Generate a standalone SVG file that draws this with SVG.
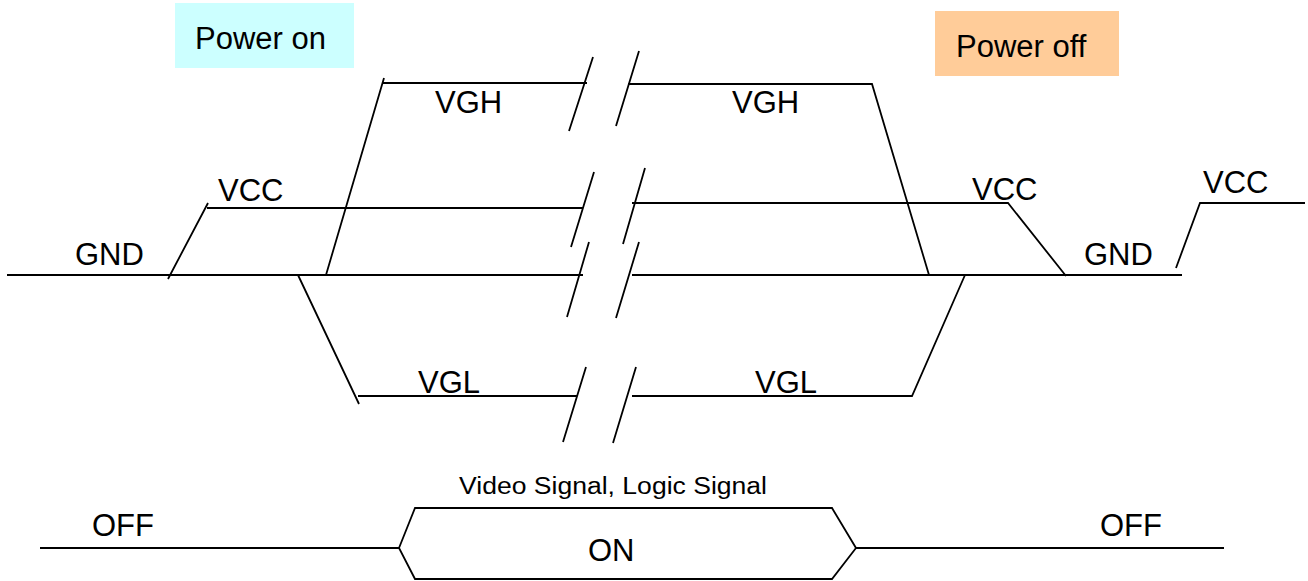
<svg xmlns="http://www.w3.org/2000/svg" width="1308" height="581" viewBox="0 0 1308 581">
<style>
.w{fill:none;stroke:#000;stroke-width:1.8;stroke-linecap:butt;stroke-linejoin:miter}
.t{font-family:"Liberation Sans",Arial,sans-serif;font-size:31px;fill:#000}
.s{font-family:"Liberation Sans",Arial,sans-serif;font-size:23px;fill:#000}
</style>
<rect width="1308" height="581" fill="#fff"/>
<g id="power-on">
<rect x="175" y="3" width="179" height="65" fill="#CCFFFF"/>
<text class="t" x="195" y="49">Power on</text>
</g>
<g id="power-off">
<rect x="935" y="11" width="184" height="65" fill="#FFCC99"/>
<text class="t" x="956" y="57">Power off</text>
</g>
<g id="vgh">
<path class="w" d="M326,275 L384,78 M383,83 L587,83 M628,84 L872,84 L929,275"/>
<text class="t" x="435" y="113">VGH</text>
<text class="t" x="732" y="113">VGH</text>
</g>
<g id="vcc">
<path class="w" d="M168,279 L208,203 M207,208 L583,208 M632,203 L1008,203 L1066,276 M1176,268 L1200,203 L1305,203"/>
<text class="t" x="218" y="201">VCC</text>
<text class="t" x="972" y="200">VCC</text>
<text class="t" x="1203" y="193">VCC</text>
</g>
<g id="gnd">
<path class="w" d="M7,275 L583,275 M632,275 L1182,275"/>
<text class="t" x="75" y="265">GND</text>
<text class="t" x="1084" y="265">GND</text>
</g>
<g id="vgl">
<path class="w" d="M298,275 L359,404 M358,396 L577,396 M632,396 L912,396 L965,275"/>
<text class="t" x="418" y="393">VGL</text>
<text class="t" x="755" y="393">VGL</text>
</g>
<g id="signal">
<path class="w" d="M40,548 L399,548 M399,548 L415,508 L832,508 L856,548 L832,579 L415,579 Z M856,548 L1224,548"/>
<text class="s" x="459" y="494" textLength="308" lengthAdjust="spacingAndGlyphs">Video Signal, Logic Signal</text>
<text class="t" x="92" y="536">OFF</text>
<text class="t" x="1100" y="536">OFF</text>
<text class="t" x="588" y="561">ON</text>
</g>
<g id="connectors">
<path class="w" d="M593,57 L569,131 M639,51 L616,126 M594,172 L571,247 M645,168 L623,244 M589,242 L567,317 M639,242 L616,318 M586,367 L563,442 M636,367 L613,443"/>
</g>
</svg>
